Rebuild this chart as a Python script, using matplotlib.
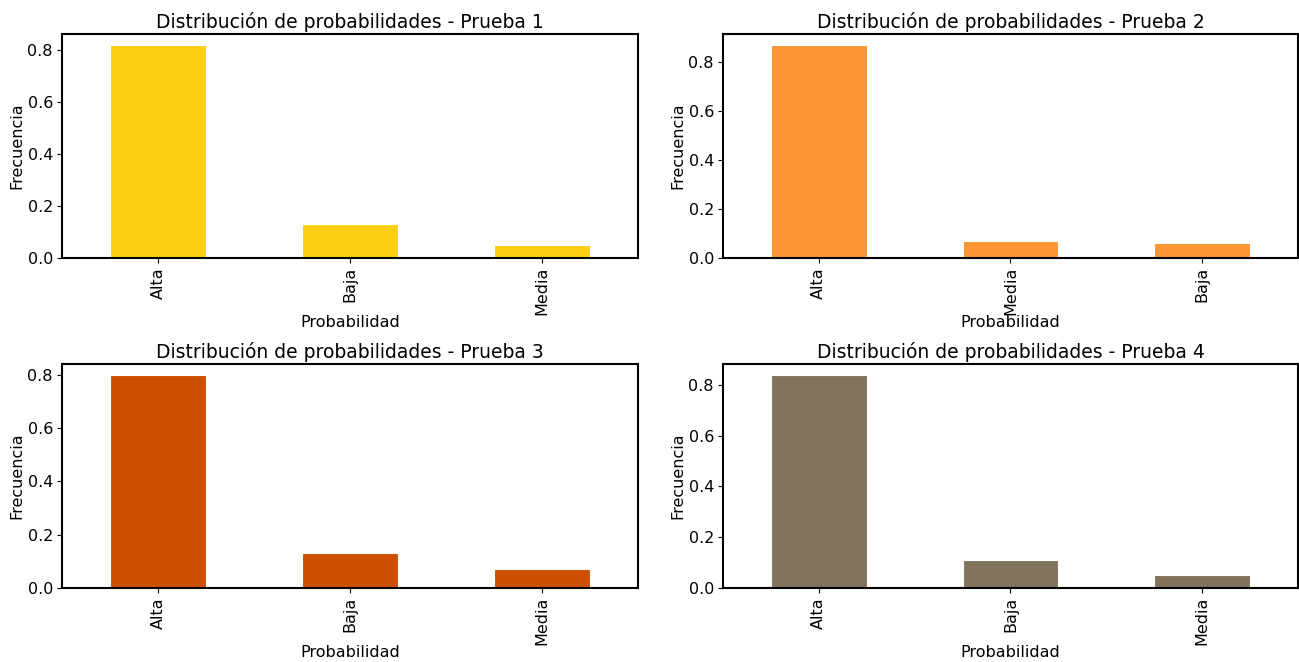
import matplotlib
matplotlib.use("Agg")
import matplotlib.pyplot as plt
import numpy as np

# Relative frequency of each probability level per test run
cats_1 = ["Alta", "Baja", "Media"]
vals_1 = [0.82, 0.13, 0.05]

cats_2 = ["Alta", "Media", "Baja"]
vals_2 = [0.87, 0.07, 0.06]

cats_3 = ["Alta", "Baja", "Media"]
vals_3 = [0.80, 0.13, 0.07]

cats_4 = ["Alta", "Baja", "Media"]
vals_4 = [0.84, 0.11, 0.05]

titles = [
    "Distribución de probabilidades - Prueba 1",
    "Distribución de probabilidades - Prueba 2",
    "Distribución de probabilidades - Prueba 3",
    "Distribución de probabilidades - Prueba 4",
]
colors = ["#FCCF14", "#FC9532", "#CC5000", "#82745C"]

fig = plt.figure(figsize=(12.99, 6.62), dpi=100)

# axes rectangles: [left, bottom, width, height] in figure fraction
rects = [
    [0.0477, 0.6103, 0.4434, 0.3383],
    [0.5566, 0.6103, 0.4426, 0.3383],
    [0.0477, 0.1118, 0.4434, 0.3383],
    [0.5566, 0.1118, 0.4426, 0.3383],
]

data = [(cats_1, vals_1), (cats_2, vals_2), (cats_3, vals_3), (cats_4, vals_4)]

for rect, (cats, vals), title, color in zip(rects, data, titles, colors):
    ax = fig.add_axes(rect)
    x = np.arange(len(cats))
    ax.bar(x, vals, width=0.5, color=color, edgecolor="white", linewidth=0.8)
    ax.set_xlim(-0.5, len(cats) - 0.5)
    ax.set_xticks(x)
    ax.set_xticklabels(cats, rotation=90, fontsize=11.5)
    ax.tick_params(axis="both", labelsize=11.5, pad=3)
    ax.set_title(title, fontsize=13.5, pad=4)
    ax.set_xlabel("Probabilidad", fontsize=11.5, labelpad=0)
    ax.set_ylabel("Frecuencia", fontsize=11.5, labelpad=2)
    for sp in ax.spines.values():
        sp.set_linewidth(1.5)

fig.savefig("out.png", dpi=100)
